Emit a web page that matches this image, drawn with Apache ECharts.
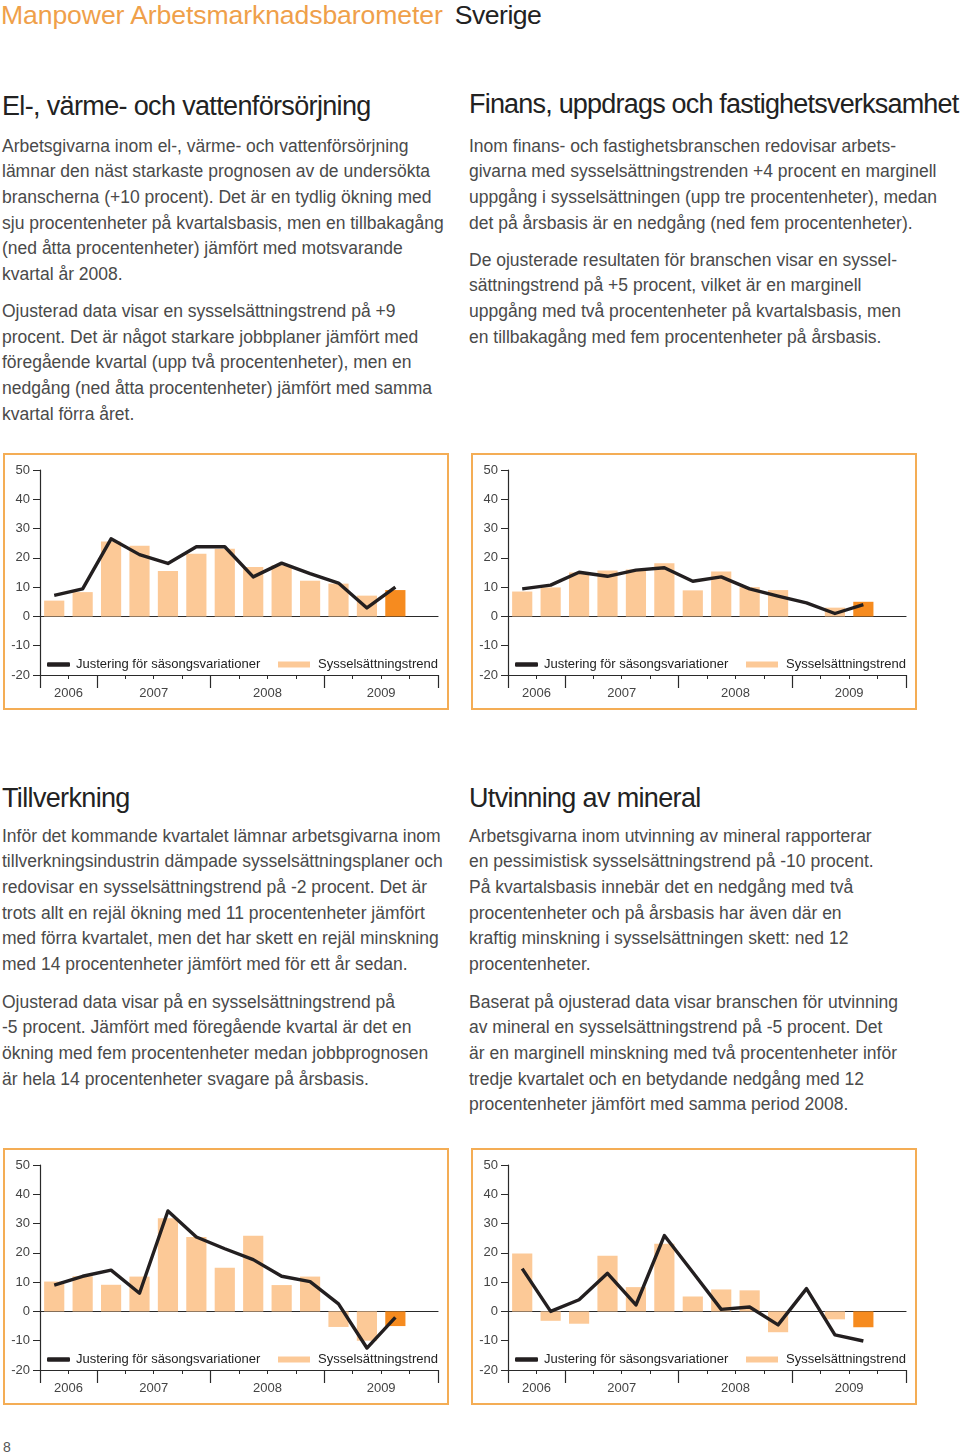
<!DOCTYPE html>
<html>
<head>
<meta charset="utf-8">
<script src="https://cdn.jsdelivr.net/npm/echarts@6/dist/echarts.min.js"></script>
<style>
  html, body { margin: 0; padding: 0; background: #fff; }
  body { width: 960px; height: 1456px; position: relative; overflow: hidden;
         font-family: "Liberation Sans", Arial, sans-serif; }
  .abs { position: absolute; white-space: nowrap; }
  .title { left: 1px; top: 0px; font-size: 26.6px; line-height: 30px; color: #EFA04A; letter-spacing: -0.1px; }
  .title span { color: #222; margin-left: 12px; letter-spacing: -0.5px; }
  .h { font-size: 27px; line-height: 32px; color: #222; letter-spacing: -0.65px; }
  .p { font-size: 17.5px; line-height: 25.7px; color: #4a4a4a; }
  .chart { position: absolute; width: 446px; height: 257px; }
  .frame { position: absolute; width: 446px; height: 257px; box-sizing: border-box;
           border: 2px solid #F4AD55; pointer-events: none; }
  .pn { left: 3px; top: 1438px; font-size: 14px; line-height: 18px; color: #555; }
</style>
</head>
<body>
<div class="abs title">Manpower Arbetsmarknadsbarometer<span>Sverige</span></div>

<div class="abs h" style="left:2px; top:90px;">El-, värme- och vattenförsörjning</div>
<div class="abs p" style="left:2px; top:133.5px;">Arbetsgivarna inom el-, värme- och vattenförsörjning<br>lämnar den näst starkaste prognosen av de undersökta<br>branscherna (+10 procent). Det är en tydlig ökning med<br>sju procentenheter på kvartalsbasis, men en tillbakagång<br>(ned åtta procentenheter) jämfört med motsvarande<br>kvartal år 2008.</div>
<div class="abs p" style="left:2px; top:299px;">Ojusterad data visar en sysselsättningstrend på +9<br>procent. Det är något starkare jobbplaner jämfört med<br>föregående kvartal (upp två procentenheter), men en<br>nedgång (ned åtta procentenheter) jämfört med samma<br>kvartal förra året.</div>

<div class="abs h" style="left:469px; top:88px; letter-spacing:-0.8px;">Finans, uppdrags och fastighetsverksamhet</div>
<div class="abs p" style="left:469px; top:133.5px;">Inom finans- och fastighetsbranschen redovisar arbets-<br>givarna med sysselsättningstrenden +4 procent en marginell<br>uppgång i sysselsättningen (upp tre procentenheter), medan<br>det på årsbasis är en nedgång (ned fem procentenheter).</div>
<div class="abs p" style="left:469px; top:247.5px;">De ojusterade resultaten för branschen visar en syssel-<br>sättningstrend på +5 procent, vilket är en marginell<br>uppgång med två procentenheter på kvartalsbasis, men<br>en tillbakagång med fem procentenheter på årsbasis.</div>

<div class="abs h" style="left:2px; top:782px;">Tillverkning</div>
<div class="abs p" style="left:2px; top:823.5px;">Inför det kommande kvartalet lämnar arbetsgivarna inom<br>tillverkningsindustrin dämpade sysselsättningsplaner och<br>redovisar en sysselsättningstrend på -2 procent. Det är<br>trots allt en rejäl ökning med 11 procentenheter jämfört<br>med förra kvartalet, men det har skett en rejäl minskning<br>med 14 procentenheter jämfört med för ett år sedan.</div>
<div class="abs p" style="left:2px; top:989.5px;">Ojusterad data visar på en sysselsättningstrend på<br>-5 procent. Jämfört med föregående kvartal är det en<br>ökning med fem procentenheter medan jobbprognosen<br>är hela 14 procentenheter svagare på årsbasis.</div>

<div class="abs h" style="left:469px; top:782px;">Utvinning av mineral</div>
<div class="abs p" style="left:469px; top:823.5px;">Arbetsgivarna inom utvinning av mineral rapporterar<br>en pessimistisk sysselsättningstrend på -10 procent.<br>På kvartalsbasis innebär det en nedgång med två<br>procentenheter och på årsbasis har även där en<br>kraftig minskning i sysselsättningen skett: ned 12<br>procentenheter.</div>
<div class="abs p" style="left:469px; top:989.5px;">Baserat på ojusterad data visar branschen för utvinning<br>av mineral en sysselsättningstrend på -5 procent. Det<br>är en marginell minskning med två procentenheter inför<br>tredje kvartalet och en betydande nedgång med 12<br>procentenheter jämfört med samma period 2008.</div>

<div class="chart" id="c1" style="left:3px; top:453px;"></div>
<div class="frame" style="left:3px; top:453px;"></div>
<div class="chart" id="c2" style="left:471px; top:453px;"></div>
<div class="frame" style="left:471px; top:453px;"></div>
<div class="chart" id="c3" style="left:3px; top:1148px;"></div>
<div class="frame" style="left:3px; top:1148px;"></div>
<div class="chart" id="c4" style="left:471px; top:1148px;"></div>
<div class="frame" style="left:471px; top:1148px;"></div>

<div class="abs pn">8</div>

<script>
// ---- Data ----
const categories = ['2006 K3','2006 K4','2007 K1','2007 K2','2007 K3','2007 K4',
                    '2008 K1','2008 K2','2008 K3','2008 K4','2009 K1','2009 K2','2009 K3','2009 K4'];
const yTicks = { min: -20, max: 50, interval: 10 };
const lineName = 'Justering för säsongsvariationer';
const barName = 'Sysselsättningstrend';
const highlightIndex = 12; // current forecast quarter (2009 K3)

const elTrend  = [5.4, 8.3, 25.6, 24.1, 15.5, 21.4, 23.1, 16.9, 17.5, 12.2, 11.2, 7.1, 9];
const elAdj    = [7.2, 9.4, 26.5, 21.1, 18.1, 23.8, 23.8, 13.5, 18.2, 14.6, 11.4, 2.9, 10];

const finTrend = [8.5, 9.9, 15.0, 15.7, 16.0, 18.2, 8.9, 15.3, 10.0, 9.0, 0, 3.0, 5];
const finAdj   = [9.4, 10.7, 15.1, 13.7, 15.8, 16.6, 12.0, 13.5, 9.4, 6.9, 4.6, 1.0, 4];

const tillTrend = [10.2, 12.0, 9.1, 11.9, 31.8, 25.4, 14.9, 25.8, 9.0, 11.9, -5.3, -10.0, -5];
const tillAdj   = [9.0, 12.0, 14.1, 6.2, 34.3, 25.4, 21.4, 17.7, 12.0, 10.2, 2.6, -12.5, -2];

const utvTrend = [19.8, -3.2, -4.2, 19.0, 8.3, 23.1, 5.1, 7.5, 7.2, -7.1, 0, -2.7, -5.4];
const utvAdj   = [14.6, 0.0, 4.0, 13.0, 2.2, 25.9, 13.4, 0.7, 1.5, -4.6, 7.8, -8.0, -10.1];

// ---- Derived year grouping (from categories) ----
const years = categories.map(c => c.split(' ')[0]);
const yearBoundaries = [0];
for (let i = 1; i < years.length; i++) if (years[i] !== years[i-1]) yearBoundaries.push(i);
yearBoundaries.push(years.length);
const yearLabelValues = [];
const yearLabelText = {};
for (let i = 0; i < yearBoundaries.length - 1; i++) {
  const mid = (yearBoundaries[i] + yearBoundaries[i+1]) / 2;
  yearLabelValues.push(mid);
  yearLabelText[mid] = years[yearBoundaries[i]];
}

const FONT = '"Liberation Sans", Arial, sans-serif';
const BAR = '#FCC997';
const BAR_HI = '#F68B1F';
const LINE = '#231F20';
const AX = '#2a2a2a';
const TXT = '#444';

function makeOption(trend, adj) {
  const barData = trend.map((v, i) => i === highlightIndex
    ? { value: v, itemStyle: { color: BAR_HI } } : v);
  return {
    animation: false,
    textStyle: { fontFamily: FONT },
    grid: { left: 37, right: 11, top: 17, bottom: 35 },
    legend: [
      { data: [{ name: lineName, icon: 'roundRect', itemStyle: { color: LINE } }],
        left: 44, top: 205, padding: 0, itemWidth: 23, itemHeight: 4.5, selectedMode: false,
        textStyle: { fontSize: 13, color: '#222', fontFamily: FONT, padding: [0,0,0,1] } },
      { data: [{ name: barName, icon: 'rect', itemStyle: { color: BAR } }],
        left: 275, top: 205, padding: 0, itemWidth: 32, itemHeight: 6, selectedMode: false,
        textStyle: { fontSize: 13, color: '#222', fontFamily: FONT, padding: [0,0,0,3] } }
    ],
    xAxis: [
      { type: 'category', data: categories, boundaryGap: true, position: 'bottom',
        axisLine: { onZero: true, lineStyle: { color: AX, width: 1.2 } },
        axisTick: { show: false }, axisLabel: { show: false } },
      { type: 'value', min: 0, max: categories.length, interval: 1, position: 'bottom',
        axisLine: { onZero: false, show: true, lineStyle: { color: AX, width: 1.2 } },
        axisTick: { show: true, length: 4, lineStyle: { color: AX, width: 1 } },
        axisLabel: { show: false }, splitLine: { show: false } },
      { type: 'value', min: 0, max: categories.length, position: 'bottom',
        axisLine: { onZero: false, show: false },
        axisTick: { show: true, length: 13, customValues: yearBoundaries, lineStyle: { color: AX, width: 1.2 } },
        axisLabel: { show: true, customValues: yearLabelValues, margin: 12,
                     formatter: v => yearLabelText[v] || '', fontSize: 13, color: TXT, fontFamily: FONT },
        splitLine: { show: false } }
    ],
    yAxis: {
      type: 'value', min: yTicks.min, max: yTicks.max, interval: yTicks.interval,
      axisLine: { show: true, onZero: false, lineStyle: { color: AX, width: 1.2 } },
      axisTick: { show: true, length: 7, lineStyle: { color: AX, width: 1 } },
      axisLabel: { fontSize: 13, color: TXT, margin: 10, fontFamily: FONT },
      splitLine: { show: false }
    },
    series: [
      { name: barName, type: 'bar', xAxisIndex: 0, data: barData, barWidth: '71%',
        itemStyle: { color: BAR } },
      { name: lineName, type: 'line', xAxisIndex: 0, data: adj, symbol: 'none',
        lineStyle: { color: LINE, width: 3.4, join: 'round' }, z: 5 }
    ]
  };
}

[['c1', elTrend, elAdj], ['c2', finTrend, finAdj], ['c3', tillTrend, tillAdj], ['c4', utvTrend, utvAdj]]
  .forEach(([id, t, a]) => {
    const ch = echarts.init(document.getElementById(id), null, { renderer: 'canvas' });
    ch.setOption(makeOption(t, a));
  });
</script>
</body>
</html>
